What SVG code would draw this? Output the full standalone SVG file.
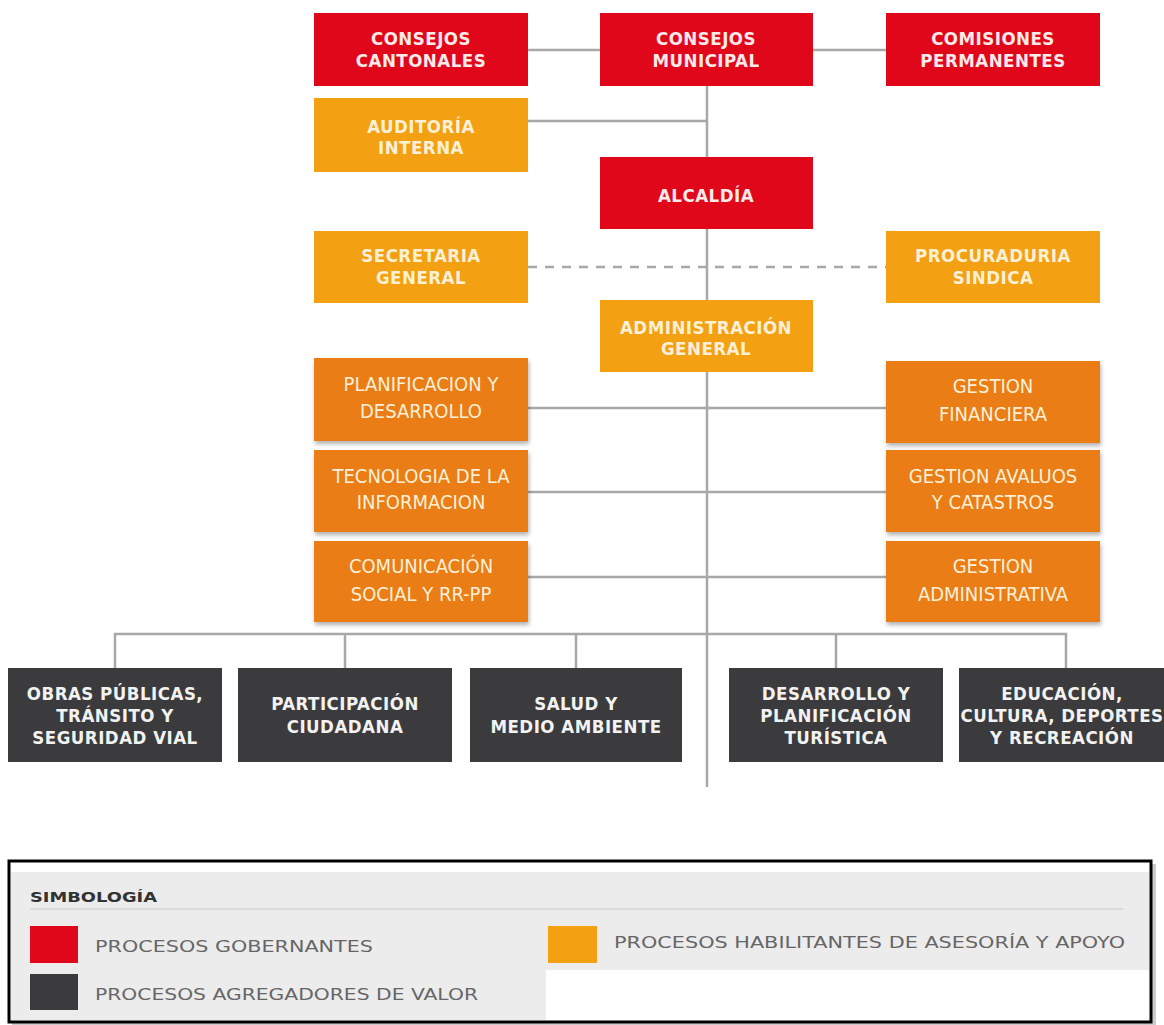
<svg xmlns="http://www.w3.org/2000/svg" width="1164" height="1025" viewBox="0 0 1164 1025">
  <defs>
    <style>
      .red { fill: #e1071b; }
      .amber { fill: #f3a012; }
      .orange { fill: #ea7d12; }
      .dark { fill: #3b3b3d; }
      .conn { stroke: #a8a8a8; stroke-width: 2.5; fill: none; }
      .dash { stroke: #a8a8a8; stroke-width: 2.5; fill: none; stroke-dasharray: 9 8; }
      .tb { font-family: "DejaVu Sans Condensed", "DejaVu Sans", sans-serif; font-stretch: condensed; font-weight: bold; font-size: 18.5px; letter-spacing: 0.5px; text-anchor: middle; }
      .tn { font-family: "DejaVu Sans Condensed", "DejaVu Sans", sans-serif; font-stretch: condensed; font-size: 20px; text-anchor: middle; fill: #fdf0d8; }
      .wr { fill: #fdeaea; }
      .wa { fill: #fdf0d6; }
      .wd { fill: #f2f2f2; }
      .lg { font-family: "DejaVu Sans", sans-serif; font-size: 15.5px; fill: #666666; }
      .lgh { font-family: "DejaVu Sans", sans-serif; font-size: 14.5px; font-weight: bold; fill: #333; }
    </style>
    <filter id="shadow" x="-10%" y="-10%" width="125%" height="130%">
      <feDropShadow dx="1" dy="3" stdDeviation="2" flood-color="#000" flood-opacity="0.3"/>
    </filter>
  </defs>

  <rect width="1164" height="1025" fill="#ffffff"/>

  <!-- connectors -->
  <g id="connectors">
    <line class="conn" x1="707" y1="86" x2="707" y2="787"/>
    <line class="conn" x1="528" y1="50" x2="600" y2="50"/>
    <line class="conn" x1="813" y1="50" x2="886" y2="50"/>
    <line class="conn" x1="528" y1="121" x2="707" y2="121"/>
    <line class="dash" x1="528" y1="267" x2="886" y2="267"/>
    <line class="conn" x1="528" y1="408" x2="886" y2="408"/>
    <line class="conn" x1="528" y1="492" x2="886" y2="492"/>
    <line class="conn" x1="528" y1="577" x2="886" y2="577"/>
    <path class="conn" d="M115 668 V634 H1066 V668"/>
    <line class="conn" x1="345" y1="634" x2="345" y2="668"/>
    <line class="conn" x1="576" y1="634" x2="576" y2="668"/>
    <line class="conn" x1="836" y1="634" x2="836" y2="668"/>
  </g>

  <!-- governing level -->
  <g id="consejos-cantonales">
    <rect class="red" x="314" y="13" width="214" height="73"/>
    <text class="tb wr" x="421" y="45">CONSEJOS</text>
    <text class="tb wr" x="421" y="67">CANTONALES</text>
  </g>
  <g id="consejos-municipal">
    <rect class="red" x="600" y="13" width="213" height="73"/>
    <text class="tb wr" x="706" y="45">CONSEJOS</text>
    <text class="tb wr" x="706" y="67">MUNICIPAL</text>
  </g>
  <g id="comisiones-permanentes">
    <rect class="red" x="886" y="13" width="214" height="73"/>
    <text class="tb wr" x="993" y="45">COMISIONES</text>
    <text class="tb wr" x="993" y="67">PERMANENTES</text>
  </g>
  <g id="auditoria-interna">
    <rect class="amber" x="314" y="98" width="214" height="74"/>
    <text class="tb wa" x="421" y="133">AUDITORÍA</text>
    <text class="tb wa" x="421" y="154">INTERNA</text>
  </g>
  <g id="alcaldia">
    <rect class="red" x="600" y="157" width="213" height="72"/>
    <text class="tb wr" x="706" y="202">ALCALDÍA</text>
  </g>
  <g id="secretaria-general">
    <rect class="amber" x="314" y="231" width="214" height="72"/>
    <text class="tb wa" x="421" y="262">SECRETARIA</text>
    <text class="tb wa" x="421" y="284">GENERAL</text>
  </g>
  <g id="procuraduria-sindica">
    <rect class="amber" x="886" y="231" width="214" height="72"/>
    <text class="tb wa" x="993" y="262">PROCURADURIA</text>
    <text class="tb wa" x="993" y="284">SINDICA</text>
  </g>
  <g id="administracion-general">
    <rect class="amber" x="600" y="300" width="213" height="72"/>
    <text class="tb wa" x="706" y="334">ADMINISTRACIÓN</text>
    <text class="tb wa" x="706" y="355">GENERAL</text>
  </g>

  <!-- support units -->
  <g id="planificacion-desarrollo">
    <rect class="orange" x="314" y="358" width="214" height="83" filter="url(#shadow)"/>
    <text class="tn" x="421" y="391">PLANIFICACION Y</text>
    <text class="tn" x="421" y="418">DESARROLLO</text>
  </g>
  <g id="tecnologia-informacion">
    <rect class="orange" x="314" y="450" width="214" height="82" filter="url(#shadow)"/>
    <text class="tn" x="421" y="483">TECNOLOGIA DE LA</text>
    <text class="tn" x="421" y="509">INFORMACION</text>
  </g>
  <g id="comunicacion-social">
    <rect class="orange" x="314" y="541" width="214" height="81" filter="url(#shadow)"/>
    <text class="tn" x="421" y="573">COMUNICACIÓN</text>
    <text class="tn" x="421" y="601">SOCIAL Y RR-PP</text>
  </g>
  <g id="gestion-financiera">
    <rect class="orange" x="886" y="361" width="214" height="82" filter="url(#shadow)"/>
    <text class="tn" x="993" y="393">GESTION</text>
    <text class="tn" x="993" y="421">FINANCIERA</text>
  </g>
  <g id="gestion-avaluos">
    <rect class="orange" x="886" y="450" width="214" height="82" filter="url(#shadow)"/>
    <text class="tn" x="993" y="483">GESTION AVALUOS</text>
    <text class="tn" x="993" y="509">Y CATASTROS</text>
  </g>
  <g id="gestion-administrativa">
    <rect class="orange" x="886" y="541" width="214" height="81" filter="url(#shadow)"/>
    <text class="tn" x="993" y="573">GESTION</text>
    <text class="tn" x="993" y="601">ADMINISTRATIVA</text>
  </g>

  <!-- value-adding units -->
  <g id="obras-publicas">
    <rect class="dark" x="8" y="668" width="214" height="94"/>
    <text class="tb wd" x="115" y="700">OBRAS PÚBLICAS,</text>
    <text class="tb wd" x="115" y="722">TRÁNSITO Y</text>
    <text class="tb wd" x="115" y="744">SEGURIDAD VIAL</text>
  </g>
  <g id="participacion-ciudadana">
    <rect class="dark" x="238" y="668" width="214" height="94"/>
    <text class="tb wd" x="345" y="710">PARTICIPACIÓN</text>
    <text class="tb wd" x="345" y="733">CIUDADANA</text>
  </g>
  <g id="salud-medio-ambiente">
    <rect class="dark" x="470" y="668" width="212" height="94"/>
    <text class="tb wd" x="576" y="710">SALUD Y</text>
    <text class="tb wd" x="576" y="733">MEDIO AMBIENTE</text>
  </g>
  <g id="desarrollo-turistico">
    <rect class="dark" x="729" y="668" width="214" height="94"/>
    <text class="tb wd" x="836" y="700">DESARROLLO Y</text>
    <text class="tb wd" x="836" y="722">PLANIFICACIÓN</text>
    <text class="tb wd" x="836" y="744">TURÍSTICA</text>
  </g>
  <g id="educacion-cultura">
    <rect class="dark" x="959" y="668" width="214" height="94"/>
    <text class="tb wd" x="1062" y="700">EDUCACIÓN,</text>
    <text class="tb wd" x="1062" y="722">CULTURA, DEPORTES</text>
    <text class="tb wd" x="1062" y="744">Y RECREACIÓN</text>
  </g>

  <!-- legend -->
  <g id="legend">
    <rect x="12" y="864" width="1144" height="161" fill="#9a9a9a" opacity="0.5"/>
    <rect x="9" y="861" width="1142" height="161" fill="#ffffff" stroke="#000" stroke-width="3"/>
    <rect x="11" y="872" width="1138" height="98" fill="#ececec"/>
    <rect x="11" y="970" width="535" height="50" fill="#ececec"/>
    <line x1="30" y1="909" x2="1123" y2="909" stroke="#d4d4d4" stroke-width="1.5"/>
    <text class="lgh" x="30" y="902" textLength="127" lengthAdjust="spacingAndGlyphs">SIMBOLOGÍA</text>
    <rect x="30" y="926" width="48" height="37" fill="#e1071b"/>
    <text class="lg" x="95" y="952" textLength="278" lengthAdjust="spacingAndGlyphs">PROCESOS GOBERNANTES</text>
    <rect x="548" y="926" width="49" height="37" fill="#f3a012"/>
    <text class="lg" x="614" y="948" textLength="511" lengthAdjust="spacingAndGlyphs">PROCESOS HABILITANTES DE ASESORÍA Y APOYO</text>
    <rect x="30" y="974" width="48" height="36" fill="#3b3b3d"/>
    <text class="lg" x="95" y="1000" textLength="383" lengthAdjust="spacingAndGlyphs">PROCESOS AGREGADORES DE VALOR</text>
  </g>
</svg>
